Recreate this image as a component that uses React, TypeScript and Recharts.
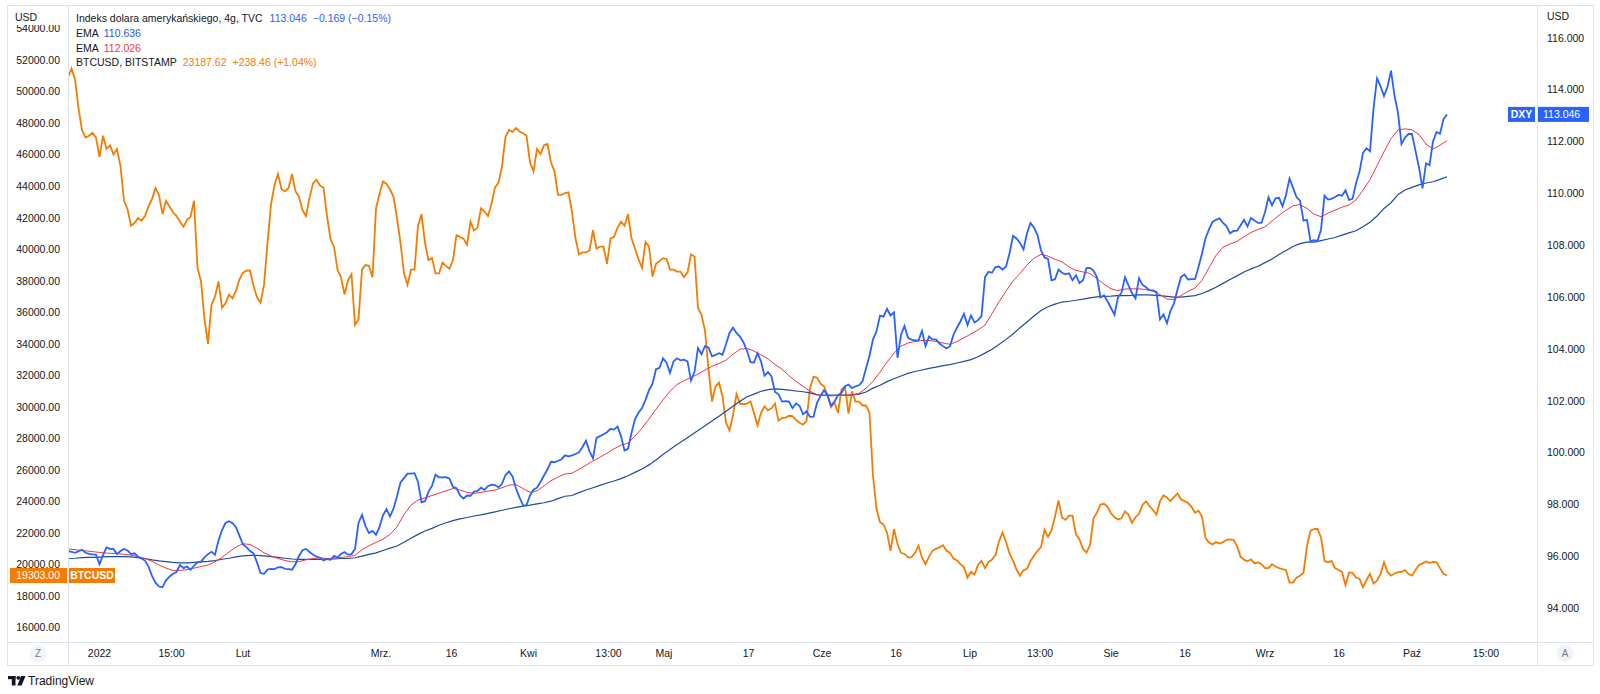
import React from 'react';
import { ComposedChart, Line, XAxis, YAxis, ReferenceLine } from 'recharts';

// ---- Data: 4h closes, sampled every half step of the bar index ----
const btcClose: number[] = [
  50900, 51460, 50800, 48960, 47570, 47090, 47210, 47400, 47090, 45870,
  47210, 46380, 46600, 46020, 46360, 45270, 43080, 42550, 41500, 41670,
  41990, 41820, 42110, 42720, 43200, 43880, 43450, 42230, 43080, 42720,
  42350, 42110, 41750, 41430, 41870, 42060, 43080, 38830, 37980, 35560,
  34000, 36480, 37010, 37960, 36290, 36580, 37130, 36890, 37380, 38100,
  38520, 38640, 38660, 37690, 36960, 36620, 37740, 40410, 42840, 44100,
  44780, 43810, 43690, 43880, 44780, 43690, 43330, 42480, 42110, 43280,
  44180, 44420, 44050, 43910, 42110, 40650, 40170, 38710, 38230, 37130,
  38030, 38420, 35200, 35560, 38710, 39000, 38950, 38230, 42600, 43520,
  44300, 44150, 43810, 43330, 41990, 40410, 38470, 37740, 38710, 38710,
  41500, 42230, 40410, 39320, 39440, 38470, 38470, 39150, 38950, 38760,
  39320, 40900, 40780, 40680, 40290, 41750, 41190, 41380, 42600, 42400,
  42110, 42890, 43930, 44220, 45270, 47140, 47570, 47450, 47700, 47480,
  47360, 47210, 45510, 44950, 46360, 46040, 46600, 46680, 45510, 44950,
  43450, 43450, 43570, 43620, 42350, 40700, 39680, 39800, 39800, 39930,
  41210, 40050, 40170, 40170, 39080, 40700, 40780, 41380, 41750, 41500,
  42230, 40700, 40050, 39370, 38830, 40460, 40170, 38270, 39080, 39250,
  39440, 39390, 38710, 38710, 38590, 38590, 38230, 38520, 39680, 39540,
  36280, 35850, 34830, 32400, 30340, 31310, 31550, 30650, 29000, 28510,
  29490, 30820, 30210, 30170, 30210, 30340, 29610, 28830, 29610, 30040,
  29780, 29920, 30210, 29120, 29290, 29320, 29440, 29410, 29170, 29000,
  28880, 29100, 31190, 31910, 31860, 31480, 31310, 30750, 29970, 30260,
  29610, 31110, 31310, 29580, 30990, 30340, 30340, 30090, 30090, 29610,
  25600, 23540, 22690, 22540, 22030, 20870, 22250, 21300, 20740, 20670,
  20450, 20450, 20740, 21180, 20450, 20020, 20500, 20870, 20990, 21090,
  21230, 20870, 20740, 20380, 20260, 20020, 19820, 19170, 19530, 19360,
  19970, 20230, 19770, 20160, 20310, 20600, 21470, 22030, 21430, 20700,
  20260, 19680, 19290, 19630, 19720, 20230, 20550, 20870, 21110, 22200,
  21760, 22180, 23050, 24070, 22980, 22830, 23100, 23100, 21910, 21590,
  20990, 20770, 21230, 22930, 23290, 23800, 23850, 23660, 23250, 23000,
  22860, 22930, 23370, 23170, 22640, 23000, 23220, 23780, 24000, 23710,
  23460, 23170, 24020, 24390, 24240, 24020, 24270, 24510, 24140, 24020,
  23900, 23660, 23290, 23420, 23050, 21670, 21400, 21280, 21420, 21330,
  21420, 21570, 21590, 21570, 21180, 20500, 20310, 20210, 20330, 20070,
  20140, 20020, 19770, 19770, 20020, 19870, 19770, 19700, 19650, 18850,
  18850, 19170, 19290, 19480, 21180, 22150, 22250, 22270, 21720, 20230,
  20140, 20230, 19770, 19650, 19530, 18680, 19480, 19480, 19170, 19090,
  18560, 19020, 19410, 18800, 18970, 19410, 20140, 19530, 19290, 19430,
  19510, 19530, 19650, 19390, 19290, 19650, 19970, 20070, 20190, 20110,
  20160, 20140, 19770, 19410, 19303,
];

const dxyClose: number[] = [
  96.21, 96.18, 96.14, 96.20, 96.26, 96.14, 96.10, 96.08, 96.07, 95.70,
  96.05, 96.35, 96.29, 96.29, 96.09, 96.21, 96.29, 96.23, 96.09, 96.12,
  95.99, 95.92, 95.84, 95.61, 95.25, 94.99, 94.84, 94.81, 95.08, 95.22,
  95.33, 95.40, 95.67, 95.55, 95.61, 95.49, 95.64, 95.77, 95.80, 95.96,
  96.09, 96.18, 96.07, 96.61, 97.02, 97.29, 97.36, 97.28, 97.13, 96.79,
  96.46, 96.36, 96.21, 96.12, 95.77, 95.36, 95.33, 95.49, 95.52, 95.51,
  95.58, 95.59, 95.52, 95.51, 95.49, 95.70, 96.02, 96.24, 96.29, 96.17,
  96.07, 95.99, 95.95, 95.84, 95.90, 95.87, 96.02, 95.96, 96.09, 96.17,
  96.07, 96.09, 96.29, 97.29, 97.60, 97.17, 96.90, 96.98, 96.83, 97.14,
  97.59, 97.82, 97.54, 97.84, 98.32, 98.85, 99.02, 99.19, 99.19, 99.21,
  98.87, 98.09, 98.13, 98.50, 98.72, 99.15, 99.05, 99.05, 99.06, 99.00,
  98.68, 98.63, 98.35, 98.23, 98.35, 98.34, 98.50, 98.53, 98.65, 98.57,
  98.71, 98.77, 98.75, 98.66, 98.80, 99.14, 99.28, 99.09, 98.62, 98.28,
  97.98, 97.97, 98.35, 98.57, 98.65, 98.87, 99.12, 99.36, 99.65, 99.64,
  99.68, 99.75, 99.90, 99.86, 99.90, 99.95, 100.02, 100.22, 100.46, 100.05,
  99.78, 100.57, 100.64, 100.71, 100.79, 100.92, 100.89, 101.01, 100.64, 100.09,
  100.15, 100.76, 101.30, 101.54, 101.72, 102.04, 102.41, 102.66, 103.22, 103.27,
  103.64, 103.47, 103.08, 103.52, 103.64, 103.56, 103.59, 103.52, 102.78, 103.12,
  104.04, 103.80, 104.11, 104.06, 103.72, 103.77, 103.84, 103.78, 104.18, 104.62,
  104.82, 104.62, 104.48, 104.25, 103.93, 103.49, 103.48, 103.84, 103.52, 102.97,
  103.11, 102.94, 102.34, 102.25, 101.97, 101.99, 101.97, 101.72, 101.90, 101.81,
  101.48, 101.60, 101.38, 101.39, 101.92, 102.19, 102.41, 102.22, 101.82, 101.97,
  102.22, 102.31, 102.56, 102.63, 102.49, 102.56, 102.60, 102.75, 103.25, 103.74,
  104.37, 104.68, 105.29, 105.25, 105.55, 105.29, 105.41, 103.66, 104.55, 104.89,
  104.43, 104.36, 104.33, 104.33, 104.70, 104.11, 104.48, 104.37, 104.37, 104.21,
  104.11, 104.02, 104.11, 104.55, 104.82, 105.07, 105.36, 104.92, 105.29, 105.02,
  105.11, 105.27, 106.77, 106.98, 106.94, 107.16, 107.18, 107.06, 107.18, 107.68,
  108.36, 108.26, 108.09, 107.84, 108.46, 108.86, 108.68, 108.39, 107.80, 107.53,
  107.47, 106.65, 106.69, 107.06, 106.94, 106.88, 106.92, 106.65, 106.84, 106.54,
  106.65, 107.12, 107.13, 107.02, 106.76, 105.99, 106.06, 105.84, 105.58, 105.32,
  106.00, 106.17, 106.77, 106.45, 106.15, 105.95, 106.73, 106.47, 106.38, 106.27,
  106.26, 106.19, 105.14, 105.33, 104.99, 105.47, 105.76, 106.29, 106.77, 106.87,
  106.68, 106.69, 106.69, 107.16, 107.68, 108.27, 108.61, 108.90, 108.98, 109.04,
  108.86, 108.74, 108.46, 108.55, 108.56, 108.76, 108.98, 108.73, 109.05, 108.95,
  108.86, 108.86, 109.27, 109.85, 109.54, 109.81, 109.83, 109.50, 109.94, 110.57,
  110.22, 109.86, 109.72, 108.95, 108.98, 108.15, 108.20, 108.17, 108.60, 109.91,
  109.76, 109.79, 109.86, 109.94, 109.91, 110.12, 109.75, 109.79, 110.38, 110.84,
  111.56, 111.74, 111.63, 113.26, 114.44, 114.14, 113.75, 114.11, 114.73, 113.77,
  113.11, 111.90, 112.15, 112.29, 112.29, 111.64, 111.00, 110.19, 111.16, 111.09,
  112.00, 112.37, 112.30, 112.86, 113.046,
];

// EMAs of DXY, one value per whole bar-index step
const emaFast: number[] = [
  96.29, 96.26, 96.23, 96.20, 96.17, 96.14, 96.12, 96.11, 96.08, 96.05,
  95.99, 95.92, 95.81, 95.67, 95.55, 95.46, 95.46, 95.49, 95.55, 95.61,
  95.67, 95.79, 95.96, 96.17, 96.36, 96.49, 96.46, 96.32, 96.14, 96.02,
  95.92, 95.84, 95.79, 95.80, 95.87, 95.92, 95.95, 95.92, 95.93, 95.96,
  95.99, 96.04, 96.26, 96.41, 96.54, 96.66, 96.85, 97.14, 97.61, 97.98,
  98.18, 98.26, 98.35, 98.44, 98.53, 98.62, 98.56, 98.47, 98.43, 98.47,
  98.52, 98.56, 98.65, 98.75, 98.77, 98.62, 98.47, 98.53, 98.72, 98.92,
  99.06, 99.18, 99.21, 99.36, 99.52, 99.68, 99.83, 99.98, 100.15, 100.29,
  100.37, 100.64, 100.95, 101.30, 101.67, 102.04, 102.37, 102.63, 102.78, 102.90,
  103.03, 103.19, 103.33, 103.44, 103.57, 103.80, 103.99, 104.02, 103.92, 103.77,
  103.62, 103.40, 103.22, 102.97, 102.75, 102.56, 102.37, 102.24, 102.21, 102.19,
  102.21, 102.22, 102.23, 102.29, 102.49, 102.75, 103.11, 103.49, 103.84, 104.11,
  104.23, 104.29, 104.33, 104.33, 104.29, 104.23, 104.18, 104.29, 104.43, 104.58,
  104.73, 104.92, 105.36, 105.82, 106.23, 106.62, 106.91, 107.24, 107.50, 107.65,
  107.58, 107.46, 107.36, 107.16, 107.03, 106.97, 106.91, 106.71, 106.50, 106.32,
  106.25, 106.31, 106.32, 106.32, 106.29, 106.23, 106.10, 105.92, 105.91, 106.06,
  106.22, 106.35, 106.65, 107.13, 107.61, 107.93, 108.05, 108.15, 108.33, 108.49,
  108.61, 108.71, 108.93, 109.16, 109.35, 109.52, 109.57, 109.42, 109.20, 109.10,
  109.24, 109.35, 109.47, 109.55, 109.75, 110.13, 110.53, 111.07, 111.61, 112.11,
  112.45, 112.49, 112.45, 112.27, 111.90, 111.71, 111.86, 112.026,
];

const emaSlow: number[] = [
  95.92, 95.93, 95.95, 95.96, 95.96, 95.98, 95.99, 95.99, 95.99, 95.98,
  95.95, 95.92, 95.87, 95.83, 95.80, 95.77, 95.75, 95.75, 95.77, 95.79,
  95.81, 95.84, 95.89, 95.93, 95.98, 96.02, 96.04, 96.04, 96.02, 95.99,
  95.96, 95.93, 95.90, 95.89, 95.89, 95.89, 95.89, 95.90, 95.90, 95.92,
  95.92, 95.95, 96.01, 96.08, 96.14, 96.23, 96.32, 96.40, 96.55, 96.70,
  96.85, 96.98, 97.08, 97.20, 97.30, 97.38, 97.45, 97.50, 97.56, 97.60,
  97.66, 97.72, 97.78, 97.84, 97.89, 97.94, 97.98, 98.03, 98.07, 98.13,
  98.23, 98.32, 98.35, 98.46, 98.56, 98.65, 98.74, 98.83, 98.91, 99.00,
  99.11, 99.24, 99.37, 99.53, 99.72, 99.93, 100.12, 100.32, 100.49, 100.67,
  100.86, 101.04, 101.22, 101.41, 101.60, 101.79, 101.98, 102.16, 102.26, 102.37,
  102.43, 102.46, 102.44, 102.41, 102.38, 102.35, 102.31, 102.23, 102.22, 102.22,
  102.22, 102.22, 102.23, 102.26, 102.34, 102.49, 102.60, 102.74, 102.85, 102.96,
  103.06, 103.13, 103.19, 103.25, 103.30, 103.36, 103.40, 103.46, 103.52, 103.59,
  103.70, 103.84, 103.99, 104.17, 104.37, 104.58, 104.82, 105.04, 105.27, 105.48,
  105.63, 105.73, 105.81, 105.84, 105.88, 105.92, 105.97, 106.01, 106.03, 106.04,
  106.06, 106.06, 106.07, 106.09, 106.09, 106.08, 106.06, 106.03, 106.00, 106.00,
  106.03, 106.06, 106.14, 106.25, 106.38, 106.53, 106.68, 106.82, 106.97, 107.09,
  107.19, 107.33, 107.47, 107.64, 107.80, 107.95, 108.06, 108.12, 108.12, 108.18,
  108.24, 108.30, 108.39, 108.48, 108.56, 108.71, 108.89, 109.13, 109.42, 109.64,
  109.95, 110.13, 110.23, 110.33, 110.40, 110.45, 110.54, 110.636,
];

// time axis: bar-index position and label
const timeTickPos: number[] = [4.5, 14.79, 25.0, 44.71, 54.79, 65.79, 77.21, 85.14, 97.21, 107.71, 118.29, 128.86, 138.86, 149.0, 159.57, 171.0, 181.57, 192.0, 202.57];
const timeTickLabels: string[] = ['2022', '15:00', 'Lut', 'Mrz.', '16', 'Kwi', '13:00', 'Maj', '17', 'Cze', '16', 'Lip', '13:00', 'Sie', '16', 'Wrz', '16', 'Paź', '15:00'];

const btcTicks: number[] = [16000, 18000, 20000, 22000, 24000, 26000, 28000, 30000, 32000, 34000, 36000, 38000, 40000, 42000, 44000, 46000, 48000, 50000, 52000, 54000];
const dxyTicks: number[] = [94, 96, 98, 100, 102, 104, 106, 108, 110, 112, 114, 116];

const BTC_DOMAIN: [number, number] = [15083, 55503];
const DXY_DOMAIN: [number, number] = [92.70, 117.265];
const X_DOMAIN: [number, number] = [0, 209.857];

const data = btcClose.map((b, j) => ({
  x: j / 2,
  btc: b,
  dxy: dxyClose[j],
  emaFast: j % 2 === 0 ? emaFast[j / 2] : null,
  emaSlow: j % 2 === 0 ? emaSlow[j / 2] : null,
}));

const lastBtc = btcClose[btcClose.length - 1];
const lastDxy = dxyClose[dxyClose.length - 1];

const FONT = '"Liberation Sans", Arial, sans-serif';
const TEXT = '#131722';
const BLUE = '#2962ff';
const ORANGE = '#f57c00';
const RED = '#f23645';
const NAVY = '#1f4aa0';
const FRAME = '#e0e3eb';

const BtcBadge = (props: any) => {
  const vb = props.viewBox || {};
  const x = vb.x ?? 68;
  const y = vb.y ?? 0;
  return (
    <g>
      <rect x={x - 58} y={y - 7.5} width={57} height={15} fill={ORANGE} />
      <text x={x - 8} y={y} textAnchor="end" dominantBaseline="central" fill="#fff" fontSize={10.5} fontFamily={FONT}>
        {lastBtc.toFixed(2)}
      </text>
      <rect x={x + 1} y={y - 7.5} width={46} height={15} fill={ORANGE} />
      <text x={x + 24} y={y} textAnchor="middle" dominantBaseline="central" fill="#fff" fontSize={10.5} fontWeight="bold" fontFamily={FONT}>
        BTCUSD
      </text>
    </g>
  );
};

const DxyBadge = (props: any) => {
  const vb = props.viewBox || {};
  const right = (vb.x ?? 68) + (vb.width ?? 1469);
  const y = vb.y ?? 0;
  return (
    <g>
      <rect x={right - 29} y={y - 7.5} width={27} height={15} fill={BLUE} />
      <text x={right - 15.5} y={y} textAnchor="middle" dominantBaseline="central" fill="#fff" fontSize={10.5} fontWeight="bold" fontFamily={FONT}>
        DXY
      </text>
      <rect x={right} y={y - 7.5} width={52} height={15} fill={BLUE} />
      <text x={right + 6} y={y} textAnchor="start" dominantBaseline="central" fill="#fff" fontSize={10.5} fontFamily={FONT}>
        {lastDxy.toFixed(3)}
      </text>
    </g>
  );
};

export default function App() {
  const labelFor = (v: number) => {
    const idx = timeTickPos.indexOf(v);
    return idx >= 0 ? timeTickLabels[idx] : '';
  };
  return (
    <div style={{ position: 'absolute', left: 0, top: 0, width: 1600, height: 694, background: '#fff', fontFamily: FONT, overflow: 'hidden' }}>
      <ComposedChart width={1600} height={694} data={data} margin={{ top: 5, right: 7, bottom: 29, left: 7 }}>
        <XAxis
          dataKey="x"
          type="number"
          domain={X_DOMAIN}
          allowDataOverflow
          ticks={timeTickPos}
          interval={0}
          tickFormatter={labelFor}
          axisLine={false}
          tickLine={false}
          height={23}
          tick={{ fontSize: 10.5, fill: TEXT, fontFamily: FONT }}
        />
        <YAxis
          yAxisId="btc"
          orientation="left"
          width={61}
          domain={BTC_DOMAIN}
          allowDataOverflow
          ticks={btcTicks}
          interval={0}
          tickFormatter={(v: number) => v.toFixed(2)}
          axisLine={false}
          tickLine={false}
          tick={{ fontSize: 10.5, fill: TEXT, fontFamily: FONT }}
        />
        <YAxis
          yAxisId="dxy"
          orientation="right"
          width={56}
          domain={DXY_DOMAIN}
          allowDataOverflow
          ticks={dxyTicks}
          interval={0}
          tickMargin={4}
          tickFormatter={(v: number) => v.toFixed(3)}
          axisLine={false}
          tickLine={false}
          tick={{ fontSize: 10.5, fill: TEXT, fontFamily: FONT }}
        />
        <Line yAxisId="btc" dataKey="btc" stroke={ORANGE} strokeWidth={1.8} dot={false} isAnimationActive={false} />
        <Line yAxisId="dxy" dataKey="emaSlow" stroke={NAVY} strokeWidth={1.2} dot={false} connectNulls isAnimationActive={false} />
        <Line yAxisId="dxy" dataKey="emaFast" stroke={RED} strokeWidth={1} dot={false} connectNulls isAnimationActive={false} />
        <Line yAxisId="dxy" dataKey="dxy" stroke={BLUE} strokeWidth={1.8} dot={false} isAnimationActive={false} />
        <ReferenceLine yAxisId="btc" y={lastBtc} stroke="none" strokeWidth={0} label={<BtcBadge />} />
        <ReferenceLine yAxisId="dxy" y={lastDxy} stroke="none" strokeWidth={0} label={<DxyBadge />} />
      </ComposedChart>

      <svg width={1600} height={694} style={{ position: 'absolute', left: 0, top: 0, pointerEvents: 'none' }}>
        {/* frame */}
        <rect x={7.5} y={5.5} width={1586} height={660} fill="none" stroke={FRAME} strokeWidth={1} />
        <line x1={68.5} y1={5} x2={68.5} y2={666} stroke={FRAME} strokeWidth={1} />
        <line x1={1537.5} y1={5} x2={1537.5} y2={666} stroke={FRAME} strokeWidth={1} />
        <line x1={7} y1={642.5} x2={1594} y2={642.5} stroke={FRAME} strokeWidth={1} />

        {/* axis unit labels */}
        <rect x={8} y={6} width={60} height={19} fill="#fff" />
        <text x={26} y={17} textAnchor="middle" dominantBaseline="central" fontSize={10.5} fill={TEXT} fontFamily={FONT}>USD</text>
        <text x={1547} y={16} textAnchor="start" dominantBaseline="central" fontSize={10.5} fill={TEXT} fontFamily={FONT}>USD</text>

        {/* legend (each line flows as one text so segments never collide) */}
        <g fontSize={10.5} fontFamily={FONT} dominantBaseline="central">
          <text x={76} y={18.3}>
            <tspan fill={TEXT}>Indeks dolara amerykańskiego, 4g, TVC</tspan>
            <tspan dx={7} fill={BLUE}>113.046</tspan>
            <tspan dx={6} fill={BLUE}>−0.169 (−0.15%)</tspan>
          </text>
          <text x={76} y={33}>
            <tspan fill={TEXT}>EMA</tspan>
            <tspan dx={5} fill="#2a5bd7">110.636</tspan>
          </text>
          <text x={76} y={47.7}>
            <tspan fill={TEXT}>EMA</tspan>
            <tspan dx={5} fill={RED}>112.026</tspan>
          </text>
          <text x={76} y={62.3}>
            <tspan fill={TEXT}>BTCUSD, BITSTAMP</tspan>
            <tspan dx={6} fill={ORANGE}>23187.62</tspan>
            <tspan dx={6} fill={ORANGE}>+238.46 (+1.04%)</tspan>
          </text>
        </g>

        {/* Z / A buttons */}
        <circle cx={38} cy={653.5} r={8.5} fill="#f0f3fa" />
        <text x={38} y={653.5} textAnchor="middle" dominantBaseline="central" fontSize={10} fill="#787b86" fontFamily={FONT}>Z</text>
        <circle cx={1565} cy={653.5} r={8.5} fill="#f0f3fa" />
        <text x={1565} y={653.5} textAnchor="middle" dominantBaseline="central" fontSize={10} fill="#787b86" fontFamily={FONT}>A</text>

        {/* TradingView logo */}
        <g fill="#131722">
          <rect x={8} y={676} width={7.5} height={3.2} />
          <rect x={11.8} y={676} width={3.7} height={9.5} />
          <circle cx={18.3} cy={677.8} r={1.9} />
          <polygon points="21,676 25.5,676 21.6,685.5 17.4,685.5" />
        </g>
        <text x={28} y={681} dominantBaseline="central" fontSize={12} fill="#131722" fontFamily={FONT}>TradingView</text>
      </svg>
    </div>
  );
}
